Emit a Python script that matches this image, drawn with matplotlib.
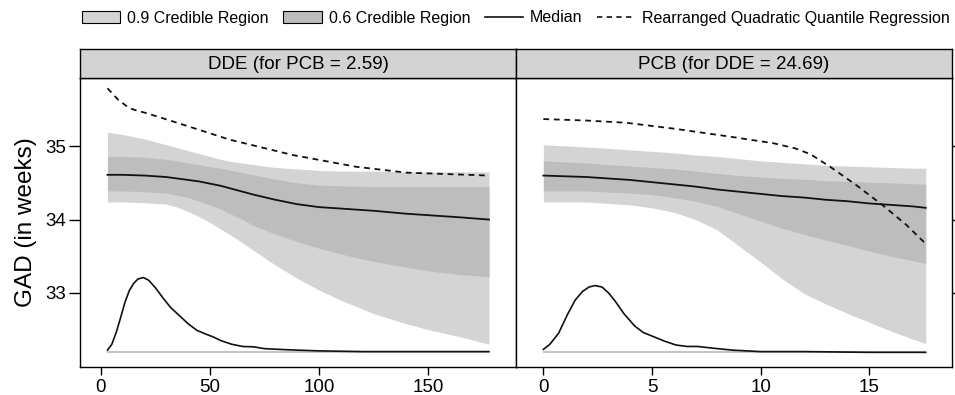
import matplotlib.pyplot as plt
from matplotlib.patches import Patch
from matplotlib.lines import Line2D

plt.rcParams['font.family'] = ['Liberation Sans', 'DejaVu Sans']

# DDE panel (PCB fixed at 2.59)
dde_x = [3, 10, 20, 30, 35, 40, 45, 50, 55, 60, 65, 70, 80, 90, 100, 110, 125, 140, 150, 165, 178]
dde_hi90 = [35.19, 35.16, 35.10, 35.02, 34.98, 34.94, 34.90, 34.86, 34.82, 34.79, 34.77, 34.75, 34.71, 34.69,
            34.67, 34.66, 34.66, 34.65, 34.65, 34.65, 34.65]
dde_hi60 = [34.86, 34.86, 34.85, 34.82, 34.80, 34.77, 34.75, 34.72, 34.70, 34.67, 34.64, 34.61, 34.55, 34.50,
            34.47, 34.46, 34.45, 34.45, 34.45, 34.45, 34.45]
dde_med = [34.61, 34.61, 34.60, 34.58, 34.56, 34.54, 34.52, 34.49, 34.46, 34.42, 34.38, 34.34, 34.27, 34.21,
           34.17, 34.15, 34.12, 34.08, 34.06, 34.03, 34.00]
dde_lo60 = [34.39, 34.39, 34.38, 34.36, 34.33, 34.30, 34.25, 34.20, 34.14, 34.07, 34.00, 33.92, 33.80, 33.70,
            33.61, 33.53, 33.43, 33.35, 33.30, 33.25, 33.22]
dde_lo90 = [34.24, 34.24, 34.23, 34.21, 34.17, 34.11, 34.04, 33.96, 33.87, 33.78, 33.68, 33.58, 33.38, 33.20,
            33.04, 32.90, 32.72, 32.58, 32.50, 32.40, 32.30]

dde_qr_x = [3, 8, 13, 16, 21, 36, 59, 88, 117, 140, 178]
dde_qr = [35.79, 35.63, 35.52, 35.49, 35.45, 35.31, 35.09, 34.88, 34.72, 34.64, 34.60]

dde_dens_x = [3, 5, 7, 9, 11, 13, 15, 17, 19.5, 22, 25, 28.5, 32, 36, 40, 44, 48, 51.5, 55, 60, 65, 70, 75,
              82, 90, 100, 120, 150, 178]
dde_dens = [32.22, 32.30, 32.46, 32.66, 32.87, 33.03, 33.13, 33.19, 33.21, 33.17, 33.07, 32.93, 32.80, 32.69,
            32.58, 32.49, 32.44, 32.40, 32.35, 32.30, 32.27, 32.265, 32.24, 32.23, 32.22, 32.21, 32.20, 32.20,
            32.20]

# PCB panel (DDE fixed at 24.69)
pcb_x = [0, 2, 4, 5, 6, 7, 8, 9, 10, 11, 12, 13, 14, 15, 16, 17, 17.6]
pcb_hi90 = [35.02, 34.99, 34.95, 34.93, 34.91, 34.88, 34.86, 34.83, 34.80, 34.78, 34.76, 34.74, 34.73, 34.72,
            34.71, 34.70, 34.70]
pcb_hi60 = [34.80, 34.77, 34.73, 34.71, 34.69, 34.66, 34.63, 34.60, 34.58, 34.56, 34.55, 34.53, 34.52, 34.51,
            34.50, 34.49, 34.48]
pcb_med = [34.60, 34.58, 34.54, 34.51, 34.48, 34.45, 34.41, 34.38, 34.35, 34.32, 34.30, 34.27, 34.25, 34.22,
           34.20, 34.18, 34.16]
pcb_lo60 = [34.39, 34.39, 34.36, 34.34, 34.30, 34.25, 34.18, 34.08, 33.98, 33.88, 33.80, 33.72, 33.65, 33.57,
            33.50, 33.44, 33.40]
pcb_lo90 = [34.24, 34.24, 34.20, 34.16, 34.10, 34.00, 33.86, 33.64, 33.42, 33.19, 32.99, 32.85, 32.72, 32.60,
            32.48, 32.37, 32.31]

pcb_qr_x = [0, 2, 3.8, 6, 8.6, 10.6, 11.6, 12.3, 13.2, 14.4, 15.6, 16.7, 17.6]
pcb_qr = [35.37, 35.35, 35.32, 35.24, 35.13, 35.04, 34.97, 34.89, 34.72, 34.47, 34.20, 33.93, 33.67]

pcb_dens_x = [0, 0.3, 0.7, 1.1, 1.46, 1.8, 2.1, 2.38, 2.7, 3.0, 3.3, 3.7, 4.2, 4.6, 5.1, 5.6, 6.1, 6.6, 7.1,
              7.7, 8.7, 10, 12, 15, 17.6]
pcb_dens = [32.23, 32.30, 32.45, 32.70, 32.90, 33.02, 33.08, 33.10, 33.08, 33.00, 32.89, 32.72, 32.55, 32.46,
            32.40, 32.34, 32.29, 32.27, 32.27, 32.25, 32.22, 32.20, 32.20, 32.19, 32.19]

dens_base = 32.19

titles = ['DDE (for PCB = 2.59)', 'PCB (for DDE = 24.69)']
light = '#d4d4d4'
dark = '#bdbdbd'

fig = plt.figure(figsize=(9.55, 3.95), dpi=100)
W, H = 955, 395
panels = [
    (80, dde_x, dde_hi90, dde_hi60, dde_med, dde_lo60, dde_lo90, dde_qr_x, dde_qr, dde_dens_x, dde_dens,
     (-9.6, 190.4), [0, 50, 100, 150]),
    (516, pcb_x, pcb_hi90, pcb_hi60, pcb_med, pcb_lo60, pcb_lo90, pcb_qr_x, pcb_qr, pcb_dens_x, pcb_dens,
     (-1.26, 18.81), [0, 5, 10, 15]),
]

for i, (left, x, hi90, hi60, med, lo60, lo90, qx, qy, dx, dy, xlim, xt) in enumerate(panels):
    ax = fig.add_axes([left / W, 1 - 367 / H, 436 / W, 289 / H])
    ax.fill_between(x, lo90, hi90, color=light, lw=0)
    ax.fill_between(x, lo60, hi60, color=dark, lw=0)
    ax.plot(x, med, color='#111111', lw=1.3)
    ax.plot(qx, qy, color='#111111', lw=1.3, linestyle=(0, (3.2, 2.6)))
    ax.hlines(dens_base, dx[0], dx[-1], color='#c4c4c4', lw=1.5)
    ax.plot(dx, dy, color='#111111', lw=1.2)
    ax.set_xlim(*xlim)
    ax.set_ylim(31.99, 35.93)
    ax.set_xticks(xt)
    ax.set_yticks([33, 34, 35])
    ax.tick_params(direction='out', length=6, width=1, labelsize=13.5, pad=3)
    ax.tick_params(axis='y', length=8, pad=2)
    if i == 0:
        ax.set_ylabel('GAD (in weeks)', fontsize=17.5, labelpad=6)
    else:
        ax.yaxis.tick_right()
        ax.tick_params(axis='y', labelright=False)
    for s in ax.spines.values():
        s.set_linewidth(1)

    strip = fig.add_axes([left / W, 1 - 78 / H, 436 / W, 29 / H])
    strip.set_facecolor('#d3d3d3')
    strip.set_xticks([])
    strip.set_yticks([])
    for s in strip.spines.values():
        s.set_linewidth(1)
    strip.text(0.5, 0.48, titles[i], ha='center', va='center', fontsize=13.5, transform=strip.transAxes)

handles = [
    Patch(facecolor=light, edgecolor='black', lw=0.8),
    Patch(facecolor=dark, edgecolor='black', lw=0.8),
    Line2D([], [], color='#111111', lw=1.2),
    Line2D([], [], color='#111111', lw=1.2, linestyle=(0, (3.2, 2.6))),
]
labels = ['0.9 Credible Region', '0.6 Credible Region', 'Median', 'Rearranged Quadratic Quantile Regression']
fig.legend(handles, labels, loc='center', bbox_to_anchor=(516 / W, 1 - 18 / H), ncol=4, frameon=False,
           fontsize=11.5, handlelength=2.4, handleheight=0.8, handletextpad=0.45, columnspacing=0.9,
           borderpad=0)

fig.savefig('out.png', dpi=100)
